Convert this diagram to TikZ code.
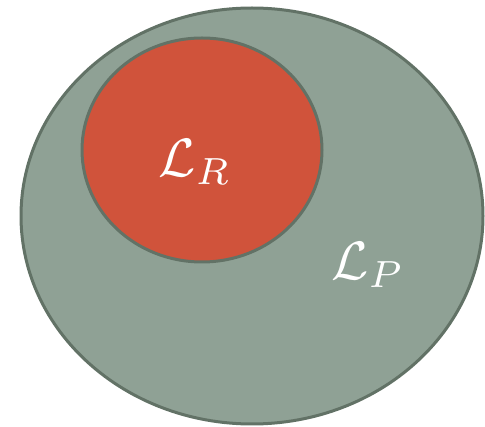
\documentclass[tikz,border=0pt]{standalone}
\usetikzlibrary{shapes.geometric}
\definecolor{outerfill}{HTML}{8FA195}
\definecolor{innerfill}{HTML}{D0533B}
\definecolor{rim}{HTML}{627266}
\begin{document}
\begin{tikzpicture}[x=1pt,y=-1pt,
  blob/.style={ellipse, draw=rim, line width=3pt, inner sep=0pt},
  lbl/.style={text=white, scale=5.4, inner sep=0pt}]
\useasboundingbox (0,0) rectangle (485,427);
\node[blob, fill=outerfill, minimum width=462pt, minimum height=416pt] (P) at (252,216) {};
\node[blob, fill=innerfill, minimum width=240pt, minimum height=224pt] (R) at (202,150) {};
\node[lbl] (LR) at (195,162) {$\mathcal{L}_R$};
\node[lbl] (LP) at (368,265) {$\mathcal{L}_P$};
\end{tikzpicture}
\end{document}
